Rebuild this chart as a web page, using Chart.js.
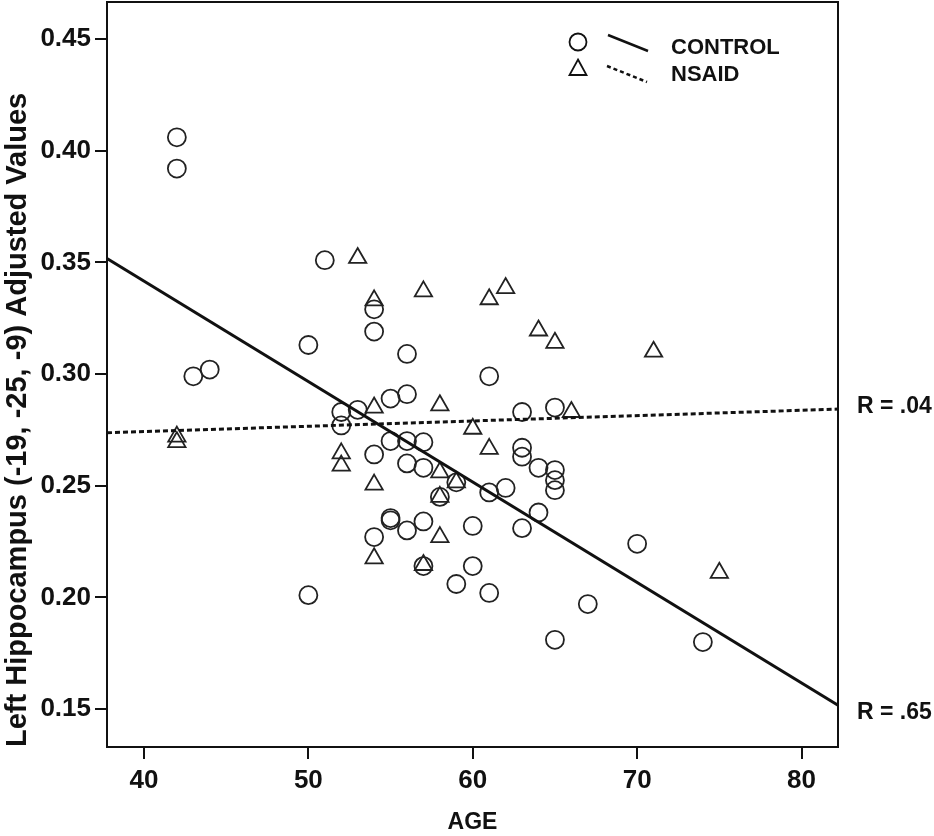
<!DOCTYPE html>
<html>
<head>
<meta charset="utf-8">
<title>Hippocampus by age</title>
<script src="https://cdn.jsdelivr.net/npm/chart.js"></script>
<style>
    body { margin: 0; background: #fff; }
    canvas { display: block; }
</style>
</head>
<body>
<canvas id="ageChart" width="934" height="836"></canvas>
<script>

const controlAge = [42, 42, 43, 44, 50, 50, 51, 52, 52, 53, 54, 54, 54, 54, 55, 55, 55, 55,
    56, 56, 56, 56, 56, 57, 57, 57, 57, 58, 59, 59, 60, 60, 61, 61, 61, 62, 63, 63, 63, 63,
    64, 64, 65, 65, 65, 65, 65, 67, 70, 74];
const controlVal = [0.406, 0.392, 0.299, 0.302, 0.313, 0.201, 0.351, 0.283, 0.277, 0.284,
    0.329, 0.319, 0.264, 0.227, 0.289, 0.270, 0.2355, 0.2345, 0.309, 0.291, 0.270, 0.260, 0.230,
    0.2695, 0.258, 0.234, 0.214, 0.245, 0.2515, 0.206, 0.232, 0.214, 0.299, 0.247, 0.202, 0.249,
    0.283, 0.267, 0.263, 0.231, 0.258, 0.238, 0.285, 0.257, 0.2525, 0.248, 0.181, 0.197, 0.224, 0.180];

const nsaidAge = [42, 42, 52, 52, 53, 54, 54, 54, 54, 57, 57, 58, 58, 58, 58, 59, 60, 61, 61,
    62, 64, 65, 66, 71, 75];
const nsaidVal = [0.272, 0.2695, 0.2645, 0.259, 0.352, 0.333, 0.285, 0.2505, 0.2175, 0.337,
    0.2145, 0.286, 0.256, 0.245, 0.227, 0.2515, 0.2755, 0.3335, 0.2665, 0.3385, 0.3195, 0.314,
    0.283, 0.310, 0.211];

// fit lines, read at the left and right edge of the plot
const fitAge = [37.75, 82.22];
const controlFit = [0.3517, 0.1517];
const nsaidFit = [0.2737, 0.2843];

const xTicks = [40, 50, 60, 70, 80];
const yTicks = [0.15, 0.20, 0.25, 0.30, 0.35, 0.40, 0.45];
const yRange = [0.133, 0.4666];
const rLabels = ['R = .65', 'R = .04'];

const FONT = "'Liberation Sans', Arial, sans-serif";
const INK = '#111';

function toPoints(xs, ys) {
    return xs.map((x, i) => ({ x: x, y: ys[i] }));
}

const framePlugin = {
    id: 'frame',
    afterDraw(chart) {
        const ctx = chart.ctx;
        const a = chart.chartArea;
        const yScale = chart.scales.y;
        ctx.save();
        ctx.strokeStyle = INK;
        ctx.lineWidth = 2;
        ctx.strokeRect(a.left, a.top, a.right - a.left, a.bottom - a.top);

        // legend
        ctx.lineWidth = 1.8;
        ctx.beginPath();
        ctx.arc(578, 42, 8.5, 0, Math.PI * 2);
        ctx.stroke();
        ctx.beginPath();
        ctx.moveTo(578, 59.5);
        ctx.lineTo(586.5, 75);
        ctx.lineTo(569.5, 75);
        ctx.closePath();
        ctx.stroke();

        ctx.lineWidth = 2.5;
        ctx.beginPath();
        ctx.moveTo(608, 35);
        ctx.lineTo(648, 51);
        ctx.stroke();
        ctx.setLineDash([4, 3]);
        ctx.beginPath();
        ctx.moveTo(607, 66);
        ctx.lineTo(647, 82);
        ctx.stroke();
        ctx.setLineDash([]);

        ctx.fillStyle = INK;
        ctx.font = 'bold 22px ' + FONT;
        ctx.textBaseline = 'middle';
        ctx.textAlign = 'left';
        ctx.fillText('CONTROL', 671, 48);
        ctx.fillText('NSAID', 671, 75);

        // R values at the end of each fit line
        ctx.font = 'bold 23px ' + FONT;
        ctx.fillText(rLabels[0], 857, yScale.getPixelForValue(controlFit[1]) + 7);
        ctx.fillText(rLabels[1], 857, yScale.getPixelForValue(nsaidFit[1]) - 2);
        ctx.restore();
    }
};

const data = {
    datasets: [{
        label: 'CONTROL fit',
        data: toPoints(fitAge, controlFit),
        type: 'line',
        borderColor: INK,
        borderWidth: 3,
        pointRadius: 0,
        fill: false
    }, {
        label: 'NSAID fit',
        data: toPoints(fitAge, nsaidFit),
        type: 'line',
        borderColor: INK,
        borderWidth: 3,
        borderDash: [5, 3],
        pointRadius: 0,
        fill: false
    }, {
        label: 'CONTROL',
        data: toPoints(controlAge, controlVal),
        pointStyle: 'circle',
        pointRadius: 9,
        pointBorderWidth: 1.8,
        borderColor: '#222',
        backgroundColor: 'rgba(0,0,0,0)'
    }, {
        label: 'NSAID',
        data: toPoints(nsaidAge, nsaidVal),
        pointStyle: 'triangle',
        pointRadius: 10,
        pointBorderWidth: 1.8,
        borderColor: '#222',
        backgroundColor: 'rgba(0,0,0,0)'
    }]
};

new Chart(document.getElementById('ageChart'), {
    type: 'scatter',
    data: data,
    plugins: [framePlugin],
    options: {
        responsive: false,
        animation: false,
        devicePixelRatio: 1,
        layout: { autoPadding: false, padding: { left: 0, right: 96, top: 2, bottom: 0 } },
        plugins: {
            legend: { display: false },
            tooltip: { enabled: false }
        },
        scales: {
            x: {
                type: 'linear',
                min: fitAge[0],
                max: fitAge[1],
                afterBuildTicks: s => { s.ticks = xTicks.map(v => ({ value: v })); },
                afterFit: s => {
                    s.height = 89;
                    s.paddingLeft = 0;
                    s.paddingRight = 0;
                },
                grid: { drawOnChartArea: false, drawTicks: true, tickLength: 12, color: INK, lineWidth: 2 },
                border: { display: true, color: INK, width: 2 },
                ticks: { color: INK, padding: 6, font: { family: FONT, size: 26, weight: 'bold' } },
                title: {
                    display: true,
                    text: 'AGE',
                    color: INK,
                    padding: { top: 0, bottom: 0 },
                    font: { family: FONT, size: 23, weight: 'bold' }
                }
            },
            y: {
                type: 'linear',
                min: yRange[0],
                max: yRange[1],
                afterBuildTicks: s => { s.ticks = yTicks.map(v => ({ value: v })); },
                afterFit: s => {
                    s.width = 107;
                    s.paddingTop = 0;
                    s.paddingBottom = 0;
                },
                grid: { drawOnChartArea: false, drawTicks: true, tickLength: 12, color: INK, lineWidth: 2 },
                border: { display: true, color: INK, width: 2 },
                ticks: {
                    color: INK,
                    padding: 4,
                    font: { family: FONT, size: 26, weight: 'bold' },
                    callback: v => v.toFixed(2)
                },
                title: {
                    display: true,
                    align: 'start',
                    text: 'Left Hippocampus (-19, -25, -9) Adjusted Values',
                    color: INK,
                    padding: { top: 1, bottom: 0 },
                    font: { family: FONT, size: 29, weight: 'bold' }
                }
            }
        }
    }
});

</script>
</body>
</html>
